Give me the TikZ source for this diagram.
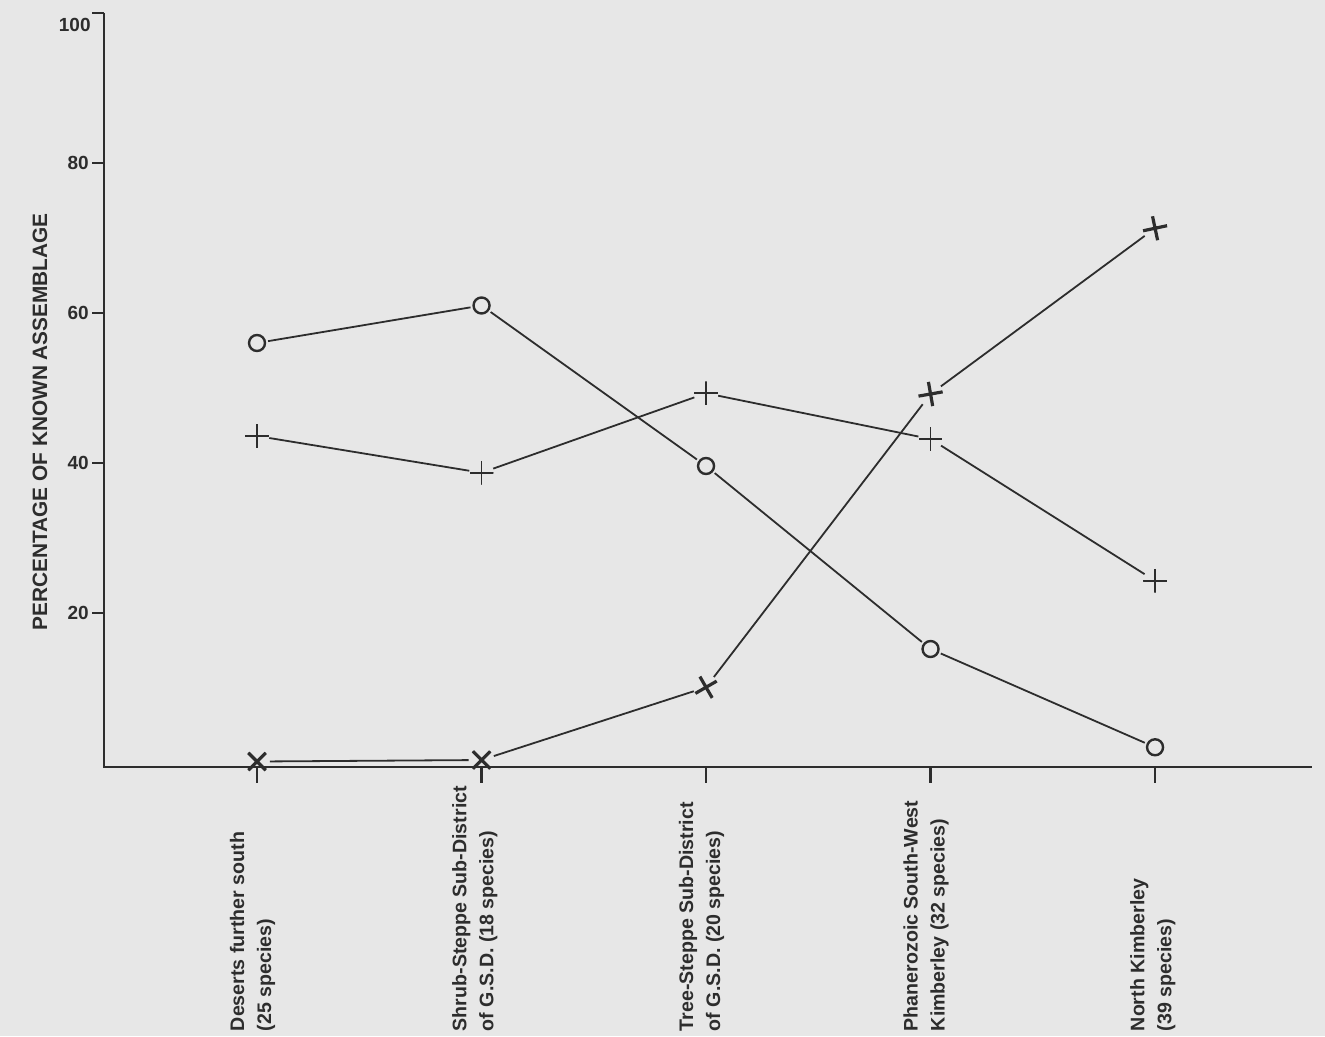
\documentclass[tikz,border=0pt]{standalone}
\usepackage{fontspec}
\setmainfont{Liberation Sans}
\usepackage{tikz}
\usetikzlibrary{positioning}
\definecolor{bggray}{RGB}{231,231,231}
\definecolor{ink}{RGB}{45,45,45}

\begin{document}
\begin{tikzpicture}[x=112.25pt,y=3.75pt]
        \tikzstyle{axis} = [ink, line width=1.2pt]
        \tikzstyle{series} = [ink, line width=0.9pt]
        \tikzstyle{ring} = [circle, draw=ink, line width=1.2pt, minimum size=8pt, inner sep=0pt, outer sep=1.6pt]
        \tikzstyle{plusmark} = [circle, inner sep=0pt, minimum size=12pt, path picture={
            \draw[ink, line width=0.9pt] (path picture bounding box.north) -- (path picture bounding box.south)
                (path picture bounding box.east) -- (path picture bounding box.west);}]
        \tikzset{xmark/.style={circle, inner sep=0pt, minimum size=12.5pt, path picture={
            \draw[ink, line width=1.6pt] (path picture bounding box.center) ++(#1:7pt) -- ++(#1+180:14pt)
                (path picture bounding box.center) ++(#1+90:7pt) -- ++(#1+270:14pt);}}}
        \tikzstyle{catlabel} = [rotate=90, anchor=west, align=left, inner sep=0pt, text=ink,
            font=\fontsize{9.8}{13.5}\selectfont\bfseries]
        \tikzstyle{ticklabel} = [anchor=east, inner sep=1pt, text=ink, font=\fontsize{9.5}{11}\selectfont\bfseries]

        \useasboundingbox[fill=bggray] (-0.1448,-36.4) rectangle (5.757,101.733);

        % axes
        \draw [axis] (0.3185,100) -- (0.3185,-0.5) -- (5.70,-0.5);
        \draw [axis] (0.3185,100) -- ++(-6pt,0);
        \node (ylab100) [ticklabel] at (0.2695,98.4) {100};
        \foreach \v in {20,40,60,80}
            \draw [axis] (0.3185,\v) -- ++(-6pt,0) node (ylab\v) [ticklabel, left] {\v};
        \foreach \k in {1,...,5}
            \draw [axis] (\k,-0.5) -- ++(0,-8pt);
        \node (ytitle) [rotate=90, text=ink, font=\fontsize{10.4}{12}\selectfont\bfseries] at (0.0334,45.5) {PERCENTAGE OF KNOWN ASSEMBLAGE};

        % category labels
        \node (cat1) [catlabel] at (0.98,-35.8) {Deserts further south\\(25 species)};
        \node (cat2) [catlabel] at (1.97,-35.8) {Shrub-Steppe Sub-District\\of G.S.D. (18 species)};
        \node (cat3) [catlabel] at (2.98,-35.8) {Tree-Steppe Sub-District\\of G.S.D. (20 species)};
        \node (cat4) [catlabel] at (3.98,-35.8) {Phanerozoic South-West\\Kimberley (32 species)};
        \node (cat5) [catlabel] at (4.99,-35.8) {North Kimberley\\(39 species)};

        % data points
        \foreach \v [count=\k] in {56,61,39.6,15.2,2.1}
            \node (c\k) [ring] at (\k,\v) {};
        \foreach \v [count=\k] in {43.6,38.7,49.3,43.2,24.3}
            \node (p\k) [plusmark] at (\k,\v) {};
        \foreach \v/\a [count=\k] in {0.2/45,0.4/45,10.1/30,49.2/10,71.3/12}
            \node (x\k) [xmark=\a] at (\k,\v) {};

        % connecting lines
        \draw [series] (c1) -- (c2) -- (c3) -- (c4) -- (c5);
        \draw [series] (p1) -- (p2) -- (p3) -- (p4) -- (p5);
        \draw [series] (x1) -- (x2) -- (x3) -- (x4) -- (x5);
\end{tikzpicture}
\end{document}
